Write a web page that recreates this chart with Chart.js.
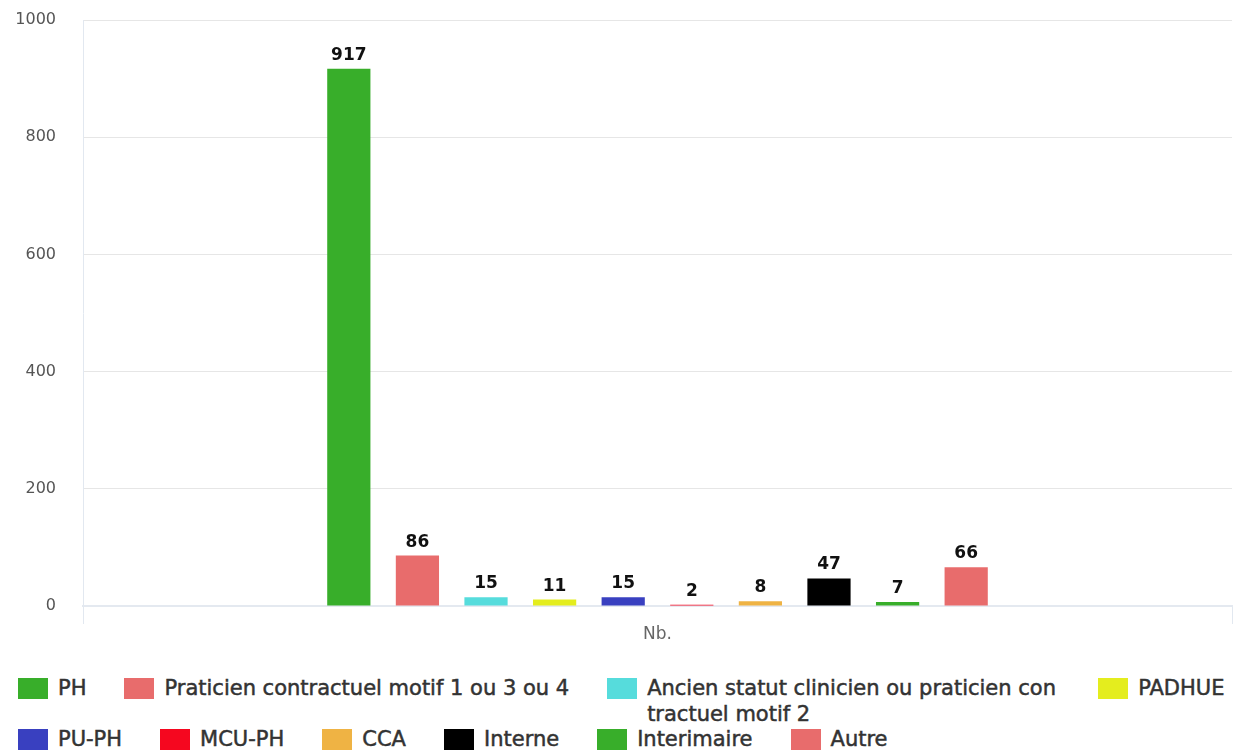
<!DOCTYPE html>
<html lang="fr">
<head>
<meta charset="utf-8">
<title>Nb. par statut</title>
<script src="https://cdn.jsdelivr.net/npm/chart.js@4.4.1/dist/chart.umd.min.js"></script>
<style>
  html, body { margin: 0; padding: 0; background: #fff; }
  #page { position: relative; width: 1236px; height: 754px; overflow: hidden; font-family: "DejaVu Sans", sans-serif; }
  #plot { position: absolute; left: 0; top: 0; width: 1236px; height: 654px; }
  #legend {
    position: absolute; left: 18px; top: 676px; width: 1218px;
    display: flex; flex-wrap: wrap; align-items: flex-start; column-gap: 38px;
    font-size: 21px; line-height: 25.5px; color: #333;
  }
  .item { display: flex; align-items: flex-start; }
  .swatch { width: 30px; height: 21px; margin-top: 2px; flex: none; }
  .text { margin-left: 10px; max-width: 413px; word-break: break-all; -webkit-text-stroke: 0.5px #333; }
</style>
</head>
<body>
<div id="page">
  <div id="plot"><canvas id="chart"></canvas></div>
  <div id="legend"></div>
</div>
<script>
// Single category on the x axis
const categories = ['Nb.'];

// One bar per status
const statusLabels = [
  'PH',
  'Praticien contractuel motif 1 ou 3 ou 4',
  'Ancien statut clinicien ou praticien contractuel motif 2',
  'PADHUE',
  'PU-PH',
  'MCU-PH',
  'CCA',
  'Interne',
  'Interimaire',
  'Autre'
];
const statusCounts = [917, 86, 15, 11, 15, 2, 8, 47, 7, 66];
const statusColors = [
  '#38ae2a', '#e86c6c', '#56dcdc', '#e4ed1e', '#3940c0',
  '#f5071f', '#efb344', '#000000', '#38ae2a', '#e86c6c'
];

// Value axis ticks
const yTicks = [0, 200, 400, 600, 800, 1000];

const FONT = '"DejaVu Sans", sans-serif';

// Writes each bar's value just above it
const valueLabels = {
  id: 'valueLabels',
  afterDatasetsDraw(chart) {
    const ctx = chart.ctx;
    ctx.save();
    ctx.font = 'bold 17px ' + FONT;
    ctx.fillStyle = '#111';
    ctx.textAlign = 'center';
    ctx.textBaseline = 'alphabetic';
    chart.data.datasets.forEach((ds, i) => {
      const meta = chart.getDatasetMeta(i);
      meta.data.forEach((bar, j) => {
        ctx.fillText(String(ds.data[j]), bar.x, bar.y - 9);
      });
    });
    ctx.restore();
  }
};

const chart = new Chart(document.getElementById('chart'), {
  type: 'bar',
  data: {
    labels: categories,
    datasets: statusLabels.map((label, i) => ({
      label: label,
      data: [statusCounts[i]],
      backgroundColor: statusColors[i],
      borderWidth: 0,
      categoryPercentage: 0.597,
      barPercentage: 0.63
    }))
  },
  options: {
    responsive: true,
    maintainAspectRatio: false,
    devicePixelRatio: 1,
    animation: false,
    layout: { padding: { top: 20, right: 4, left: 0, bottom: 0 } },
    plugins: {
      legend: { display: false },
      tooltip: { enabled: false }
    },
    scales: {
      x: {
        z: 1,
        grid: { offset: true, drawOnChartArea: false, color: '#e2e8f0', tickLength: 18 },
        border: { color: '#e4e9f0', width: 2 },
        ticks: { font: { family: FONT, size: 17 }, color: '#666', padding: 0 },
        afterFit(scale) { scale.height = 48; }
      },
      y: {
        min: yTicks[0],
        max: yTicks[yTicks.length - 1],
        afterBuildTicks(scale) { scale.ticks = yTicks.map(v => ({ value: v })); },
        grid: { color: '#e6e6e6', drawTicks: true, tickLength: 27, tickColor: 'rgba(0,0,0,0)' },
        border: { color: '#e2e8f0', width: 1 },
        ticks: {
          font: { family: FONT, size: 16 }, color: '#555', padding: 0,
          callback: v => String(v)
        },
        afterFit(scale) { scale.width = 83; }
      }
    }
  },
  plugins: [valueLabels]
});

// HTML legend built from the chart's datasets
const legendEl = document.getElementById('legend');
chart.data.datasets.forEach(ds => {
  const item = document.createElement('div');
  item.className = 'item';
  const sw = document.createElement('span');
  sw.className = 'swatch';
  sw.style.background = ds.backgroundColor;
  const tx = document.createElement('span');
  tx.className = 'text';
  tx.textContent = ds.label;
  item.appendChild(sw);
  item.appendChild(tx);
  legendEl.appendChild(item);
});
</script>
</body>
</html>
